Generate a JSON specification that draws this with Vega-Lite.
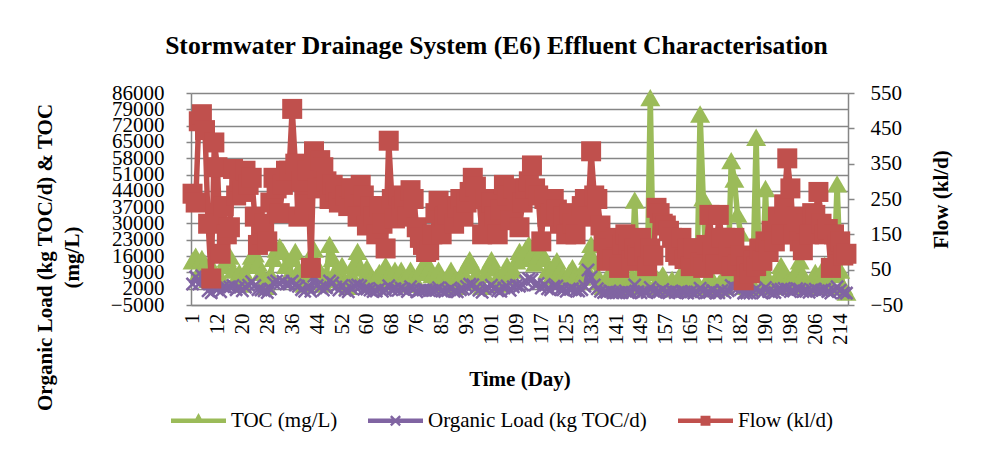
{
"$schema":"https://vega.github.io/schema/vega-lite/v6.json",
"width":657,"height":212,
"autosize":{"type":"none"},
"padding":{"left":191,"top":93,"right":134,"bottom":167},
"background":"white",
"config":{"view":{"stroke":null},
"axis":{"labelFont":"Liberation Serif","titleFont":"Liberation Serif","labelColor":"#000","titleColor":"#000","labelFontSize":21,"titleFontSize":21,"titleFontWeight":"bold","labelOverlap":false},
"legend":{"labelFont":"Liberation Serif","labelFontSize":21,"labelColor":"#000"}},
"title":{"text":"Stormwater Drainage System (E6) Effluent Characterisation","font":"Liberation Serif","fontSize":25.6,"fontWeight":"bold","color":"#000","anchor":"middle","frame":"group","baseline":"alphabetic","offset":2,"dx":-23},
"data":{"values":[
{"d":1,"t":14000,"o":4000,"f":265},{"d":2,"t":16000,"o":7000,"f":240},{"d":3,"t":9000,"o":4000,"f":470},{"d":5,"t":15000,"o":7500,"f":490},{"d":6,"t":13000,"o":5800,"f":445},{"d":8,"t":6000,"o":1100,"f":180},{"d":9,"t":12000,"o":300,"f":25},{"d":11,"t":8000,"o":4900,"f":410},{"d":12,"t":5000,"o":1700,"f":340},{"d":13,"t":7000,"o":700,"f":95},{"d":14,"t":12000,"o":2800,"f":230},{"d":15,"t":15000,"o":2300,"f":150},{"d":16,"t":16000,"o":2700,"f":170},{"d":17,"t":10000,"o":3400,"f":335},{"d":18,"t":6000,"o":1600,"f":260},{"d":19,"t":9000,"o":2700,"f":300},
{"d":20,"t":4000,"o":1100,"f":270},{"d":21,"t":8000,"o":2600,"f":330},{"d":22,"t":12000,"o":3500,"f":290},{"d":23,"t":16000,"o":5000,"f":310},{"d":24,"t":17000,"o":3400,"f":200},{"d":25,"t":13000,"o":1600,"f":120},{"d":26,"t":9000,"o":1400,"f":150},{"d":27,"t":6000,"o":1100,"f":180},{"d":28,"t":3000,"o":400,"f":130},{"d":29,"t":8000,"o":1900,"f":240},{"d":30,"t":15000,"o":4600,"f":310},{"d":31,"t":19000,"o":5300,"f":280},{"d":32,"t":20000,"o":4200,"f":210},{"d":33,"t":18000,"o":5200,"f":290},{"d":34,"t":12000,"o":4000,"f":330},{"d":35,"t":8000,"o":4000,"f":330},
{"d":36,"t":15000,"o":5200,"f":505},{"d":37,"t":18000,"o":3600,"f":350},{"d":38,"t":10000,"o":3000,"f":200},{"d":39,"t":6000,"o":1600,"f":300},{"d":40,"t":4000,"o":900,"f":235},{"d":41,"t":9000,"o":3000,"f":330},{"d":42,"t":16000,"o":900,"f":55},{"d":43,"t":19000,"o":7300,"f":385},{"d":44,"t":12000,"o":3400,"f":280},{"d":45,"t":7000,"o":2500,"f":360},{"d":46,"t":4000,"o":1400,"f":340},{"d":47,"t":8000,"o":2400,"f":300},{"d":48,"t":21000,"o":5300,"f":250},{"d":49,"t":15000,"o":4400,"f":290},{"d":50,"t":10000,"o":2700,"f":270},{"d":51,"t":6000,"o":1400,"f":240},
{"d":52,"t":12000,"o":3400,"f":280},{"d":53,"t":5000,"o":1300,"f":260},{"d":54,"t":3000,"o":700,"f":230},{"d":55,"t":8000,"o":2200,"f":280},{"d":56,"t":13000,"o":3300,"f":250},{"d":57,"t":18000,"o":3600,"f":200},{"d":58,"t":11000,"o":3200,"f":290},{"d":59,"t":7000,"o":1800,"f":260},{"d":60,"t":11000,"o":1900,"f":175},{"d":61,"t":6000,"o":1400,"f":230},{"d":62,"t":4000,"o":800,"f":200},{"d":63,"t":7000,"o":1000,"f":150},{"d":64,"t":9000,"o":2100,"f":230},{"d":65,"t":5000,"o":900,"f":180},{"d":66,"t":12000,"o":1300,"f":110},{"d":67,"t":8000,"o":3300,"f":415},
{"d":68,"t":6000,"o":1500,"f":250},{"d":69,"t":10000,"o":2000,"f":195},{"d":70,"t":5000,"o":1300,"f":260},{"d":71,"t":10000,"o":2300,"f":230},{"d":72,"t":7000,"o":1800,"f":250},{"d":73,"t":4000,"o":800,"f":200},{"d":74,"t":10000,"o":2800,"f":275},{"d":75,"t":7000,"o":1800,"f":250},{"d":76,"t":4000,"o":700,"f":170},{"d":77,"t":9000,"o":1300,"f":140},{"d":78,"t":12000,"o":1400,"f":120},{"d":79,"t":14000,"o":1400,"f":100},{"d":81,"t":11000,"o":1200,"f":105},{"d":82,"t":8000,"o":1200,"f":150},{"d":83,"t":6000,"o":1300,"f":210},{"d":84,"t":10000,"o":2400,"f":245},
{"d":85,"t":7000,"o":1000,"f":150},{"d":86,"t":4000,"o":800,"f":200},{"d":87,"t":6000,"o":1200,"f":205},{"d":88,"t":10000,"o":2300,"f":230},{"d":89,"t":5000,"o":900,"f":180},{"d":90,"t":3000,"o":700,"f":225},{"d":91,"t":6000,"o":1500,"f":250},{"d":92,"t":9000,"o":1800,"f":200},{"d":93,"t":12000,"o":2900,"f":240},{"d":94,"t":14500,"o":3900,"f":270},{"d":95,"t":12000,"o":3700,"f":310},{"d":96,"t":8000,"o":2300,"f":285},{"d":97,"t":5000,"o":1300,"f":250},{"d":98,"t":3000,"o":500,"f":150},{"d":99,"t":8000,"o":2000,"f":250},{"d":100,"t":12000,"o":2400,"f":200},
{"d":101,"t":14500,"o":3500,"f":240},{"d":102,"t":11000,"o":2200,"f":200},{"d":103,"t":7000,"o":1100,"f":150},{"d":104,"t":4000,"o":900,"f":220},{"d":105,"t":8000,"o":2300,"f":290},{"d":106,"t":12000,"o":3100,"f":260},{"d":107,"t":7000,"o":1300,"f":190},{"d":108,"t":10000,"o":2800,"f":280},{"d":109,"t":14000,"o":3500,"f":250},{"d":110,"t":18000,"o":3100,"f":170},{"d":111,"t":15000,"o":3600,"f":240},{"d":112,"t":19000,"o":5300,"f":280},{"d":113,"t":21000,"o":6300,"f":300},{"d":114,"t":17000,"o":5900,"f":345},{"d":115,"t":13000,"o":3600,"f":280},{"d":116,"t":16000,"o":4200,"f":260},
{"d":117,"t":18000,"o":2300,"f":130},{"d":118,"t":15000,"o":3800,"f":250},{"d":119,"t":10000,"o":2000,"f":200},{"d":120,"t":7000,"o":1500,"f":210},{"d":121,"t":12000,"o":3000,"f":250},{"d":122,"t":14000,"o":3100,"f":220},{"d":123,"t":10000,"o":1800,"f":180},{"d":124,"t":8000,"o":1600,"f":200},{"d":125,"t":6000,"o":900,"f":150},{"d":126,"t":9000,"o":1900,"f":210},{"d":127,"t":11000,"o":2000,"f":180},{"d":128,"t":8000,"o":1200,"f":150},{"d":129,"t":5000,"o":1000,"f":205},{"d":130,"t":7000,"o":1600,"f":230},{"d":131,"t":12000,"o":3000,"f":250},{"d":132,"t":16000,"o":10000,"f":200},
{"d":133,"t":21000,"o":7000,"f":385},{"d":134,"t":14000,"o":3600,"f":260},{"d":135,"t":8000,"o":2000,"f":250},{"d":136,"t":5000,"o":900,"f":175},{"d":137,"t":3000,"o":400,"f":130},{"d":138,"t":6000,"o":500,"f":75},{"d":139,"t":9000,"o":1000,"f":110},{"d":140,"t":4000,"o":300,"f":80},{"d":141,"t":2000,"o":300,"f":140},{"d":142,"t":5000,"o":300,"f":55},{"d":143,"t":3000,"o":400,"f":120},{"d":144,"t":7000,"o":1000,"f":150},{"d":145,"t":3000,"o":400,"f":120},{"d":146,"t":5000,"o":400,"f":75},{"d":147,"t":40000,"o":3600,"f":110},{"d":148,"t":8000,"o":700,"f":90},
{"d":149,"t":3000,"o":300,"f":140},{"d":150,"t":6000,"o":800,"f":100},{"d":151,"t":4000,"o":400,"f":60},{"d":152,"t":84000,"o":2500,"f":110},{"d":153,"t":9000,"o":1000,"f":90},{"d":154,"t":5000,"o":500,"f":225},{"d":155,"t":3000,"o":700,"f":210},{"d":156,"t":8000,"o":1700,"f":180},{"d":157,"t":4000,"o":700,"f":175},{"d":158,"t":2000,"o":300,"f":160},{"d":159,"t":6000,"o":1000,"f":140},{"d":160,"t":3000,"o":400,"f":100},{"d":161,"t":5000,"o":500,"f":90},{"d":162,"t":9000,"o":800,"f":140},{"d":163,"t":4000,"o":600,"f":80},{"d":164,"t":2000,"o":200,"f":110},
{"d":165,"t":6000,"o":700,"f":60},{"d":166,"t":3000,"o":200,"f":110},{"d":167,"t":5000,"o":600,"f":110},{"d":168,"t":77000,"o":2200,"f":70},{"d":169,"t":41000,"o":1000,"f":55},{"d":170,"t":5000,"o":300,"f":120},{"d":171,"t":3000,"o":400,"f":205},{"d":172,"t":6000,"o":1200,"f":100},{"d":173,"t":2000,"o":200,"f":65},{"d":174,"t":4000,"o":300,"f":205},{"d":175,"t":6000,"o":1200,"f":140},{"d":176,"t":3000,"o":400,"f":140},{"d":177,"t":8000,"o":1100,"f":100},{"d":179,"t":57000,"o":3400,"f":60},{"d":180,"t":49000,"o":2500,"f":140},{"d":181,"t":34000,"o":2200,"f":65},
{"d":182,"t":26000,"o":1700,"f":90},{"d":183,"t":5000,"o":100,"f":20},{"d":184,"t":3000,"o":200,"f":60},{"d":185,"t":6000,"o":200,"f":40},{"d":186,"t":9000,"o":700,"f":75},{"d":187,"t":67000,"o":2000,"f":60},{"d":188,"t":8000,"o":900,"f":110},{"d":189,"t":3000,"o":200,"f":75},{"d":190,"t":45000,"o":2500,"f":130},{"d":191,"t":6000,"o":800,"f":100},{"d":192,"t":4000,"o":400,"f":160},{"d":193,"t":3000,"o":400,"f":130},{"d":194,"t":8000,"o":1600,"f":200},{"d":195,"t":12000,"o":1800,"f":150},{"d":196,"t":9000,"o":2100,"f":235},{"d":197,"t":5000,"o":1800,"f":365},
{"d":198,"t":3000,"o":800,"f":280},{"d":199,"t":7000,"o":1000,"f":150},{"d":200,"t":10000,"o":2000,"f":200},{"d":201,"t":14000,"o":1800,"f":130},{"d":202,"t":8000,"o":800,"f":105},{"d":203,"t":5000,"o":900,"f":180},{"d":204,"t":3000,"o":500,"f":150},{"d":205,"t":6000,"o":1300,"f":210},{"d":206,"t":9000,"o":1800,"f":205},{"d":207,"t":4000,"o":1100,"f":270},{"d":208,"t":7000,"o":1300,"f":180},{"d":209,"t":12000,"o":1800,"f":150},{"d":210,"t":5000,"o":800,"f":165},{"d":211,"t":3000,"o":200,"f":55},{"d":212,"t":8000,"o":1200,"f":150},{"d":213,"t":47000,"o":2800,"f":120},{"d":214,"t":10000,"o":1300,"f":130},{"d":215,"t":3000,"o":300,"f":90},{"d":216,"t":500,"o":100,"f":95}
]},
"encoding":{"x":{"field":"d","type":"ordinal","scale":{"type":"point","padding":0.5},
"axis":{"values":[1,12,20,28,36,44,52,60,68,76,85,93,101,109,117,125,133,141,149,157,165,173,182,190,198,206,214],"labelAngle":270,"ticks":false,"tickSize":0,"labelPadding":8,"domainColor":"#868686","domainWidth":1.5,"grid":false,"title":"Time (Day)","titleX":328.5,"titleY":74,"titleBaseline":"middle","titleAlign":"center"}}},
"layer":[
{"layer":[
{"mark":{"type":"line","color":"#9BBB59","strokeWidth":5.5,"strokeJoin":"round","strokeCap":"round"},"encoding":{"y":{"field":"t","type":"quantitative"}}},
{"mark":{"type":"point","shape":"triangle-up","filled":true,"size":400,"color":"#9BBB59","opacity":1},"encoding":{"y":{"field":"t","type":"quantitative"}}},
{"mark":{"type":"line","color":"#8064A2","strokeWidth":4.5,"strokeJoin":"round","strokeCap":"round"},"encoding":{"y":{"field":"o","type":"quantitative"}}},
{"mark":{"type":"point","shape":"M-1,-1L1,1M-1,1L1,-1","filled":false,"size":150,"stroke":"#8064A2","strokeWidth":2.5,"opacity":1},"encoding":{"y":{"field":"o","type":"quantitative"}}}
],
"encoding":{"y":{"type":"quantitative","scale":{"domain":[-5000,86000],"nice":false,"zero":false},
"axis":{"orient":"left","values":[-5000,2000,9000,16000,23000,30000,37000,44000,51000,58000,65000,72000,79000,86000],"format":"d","tickSize":5,"tickColor":"#868686","tickWidth":1.5,"labelPadding":22,"grid":true,"gridColor":"#868686","gridWidth":1.5,"domainColor":"#868686","domainWidth":1.5,
"title":["Organic Load (kg TOC/d) & TOC","(mg/L)"],"titleAngle":270,"titleX":-146,"titleY":164,"titleAlign":"center","titleBaseline":"middle","titleLineHeight":27}}}},
{"layer":[
{"mark":{"type":"line","color":"#C0504D","strokeWidth":5.5,"strokeJoin":"round","strokeCap":"round"},"encoding":{"y":{"field":"f","type":"quantitative"}}},
{"mark":{"type":"point","shape":"square","filled":true,"size":400,"color":"#C0504D","opacity":1},"encoding":{"y":{"field":"f","type":"quantitative"}}}
],
"encoding":{"y":{"type":"quantitative","scale":{"domain":[-50,550],"nice":false,"zero":false},
"axis":{"orient":"right","values":[-50,50,150,250,350,450,550],"tickSize":6,"tickColor":"#868686","tickWidth":1.5,"labelPadding":16,"grid":false,"domainColor":"#868686","domainWidth":1.5,
"title":"Flow (kl/d)","titleAngle":270,"titleX":93,"titleY":106,"titleAlign":"center","titleBaseline":"middle"}}}},
{"transform":[{"filter":"false"}],
"mark":{"type":"point","filled":true,"opacity":1},
"encoding":{
"color":{"field":"s","type":"nominal","scale":{"domain":["TOC (mg/L)","Organic Load (kg TOC/d)","Flow (kl/d)"],"range":["#9BBB59","#8064A2","#C0504D"]},
"legend":{"orient":"none","legendX":-20,"legendY":300,"direction":"horizontal","title":null,"symbolSize":3025,"symbolStrokeWidth":0,"labelOffset":5,"columnPadding":30,"labelLimit":0,"padding":0}},
"shape":{"field":"s","type":"nominal","scale":{"domain":["TOC (mg/L)","Organic Load (kg TOC/d)","Flow (kl/d)"],"range":["M-1,-0.085H1V0.085H-1Z M0,-0.28L0.2,0.08H-0.2Z","M-1,-0.085H1V0.085H-1Z M0,-0.06L0.14,-0.2L0.2,-0.14L0.06,0L0.2,0.14L0.14,0.2L0,0.06L-0.14,0.2L-0.2,0.14L-0.06,0L-0.2,-0.14L-0.14,-0.2Z","M-1,-0.085H1V0.085H-1Z M-0.18,-0.18H0.18V0.18H-0.18Z"]}}}}
],
"resolve":{"scale":{"y":"independent"}}
}
